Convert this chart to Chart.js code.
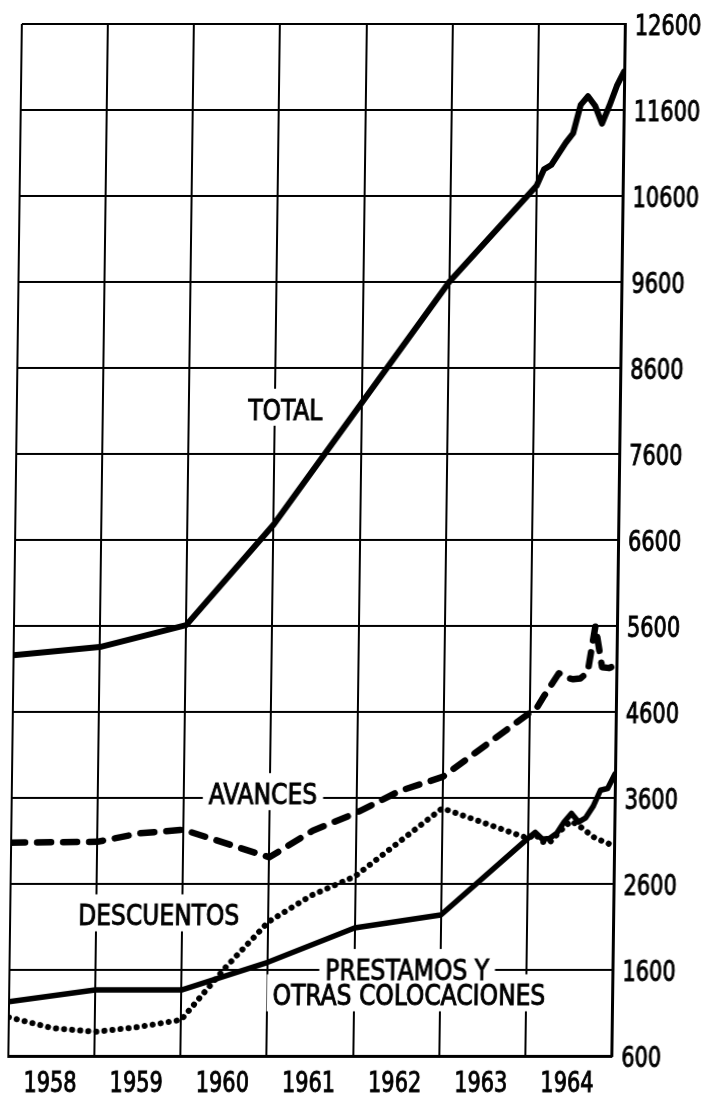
<!DOCTYPE html>
<html>
<head>
<meta charset="utf-8">
<title>Total, avances, descuentos y prestamos 1958-1964</title>
<script src="https://cdn.jsdelivr.net/npm/chart.js@4.4.1/dist/chart.umd.min.js"></script>
<style>
  html, body { margin: 0; padding: 0; background: #fff; }
  /* the scan is slightly sheared, so the whole chart leans a little */
  #wrap { width: 703px; height: 1095px; transform: skewX(-0.75deg); transform-origin: 50% 50%; }
</style>
</head>
<body>
<div id="wrap"><canvas id="chart" width="703" height="1095"></canvas></div>
<script>
// x values are months counted from January 1958
const yearLabels = ["1958", "1959", "1960", "1961", "1962", "1963", "1964"];
const yTicks = [600, 1600, 2600, 3600, 4600, 5600, 6600, 7600, 8600, 9600, 10600, 11600, 12600];

// TOTAL
const totalMonths = [0, 12, 24, 36, 48, 60, 72, 73, 74, 75, 76, 77, 78, 79, 80, 81, 82, 83, 84];
const totalValues = [5260, 5355, 5610, 6780, 8190, 9600, 10720,
  10910, 10960, 11090, 11220, 11330, 11660, 11760, 11650, 11440, 11650, 11880, 12050];

// AVANCES
const avancesMonths = [0, 12, 18, 24, 36, 42, 48, 54, 60, 72, 73, 74, 75, 76, 77, 78, 79, 80, 81, 82, 83, 84];
const avancesValues = [3080, 3090, 3190, 3230, 2910, 3220, 3425, 3680, 3845, 4590,
  4650, 4790, 4920, 5050, 5000, 4980, 4990, 5060, 5600, 5120, 5110, 5150];

// DESCUENTOS
const descuentosMonths = [0, 6, 12, 18, 24, 30, 36, 42, 48, 60, 72, 73, 74, 75, 76, 77, 78, 79, 80, 81, 82, 83, 84];
const descuentosValues = [1050, 925, 880, 935, 1020, 1620, 2160, 2470, 2690, 3480, 3130,
  3180, 3090, 3080, 3170, 3260, 3330, 3280, 3220, 3150, 3110, 3080, 3030];

// PRESTAMOS Y OTRAS COLOCACIONES
const prestamosMonths = [0, 12, 24, 36, 48, 60, 72, 73, 74, 75, 76, 77, 78, 79, 80, 81, 82, 83, 84];
const prestamosValues = [1230, 1367, 1367, 1690, 2088, 2240, 3130,
  3200, 3120, 3130, 3190, 3320, 3420, 3320, 3370, 3500, 3690, 3710, 3880];

// captions written inside the plot (month, value)
const captions = [
  { text: "TOTAL", month: 37.4, value: 8120 },
  { text: "AVANCES", month: 35.0, value: 3650 },
  { text: "DESCUENTOS", month: 20.7, value: 2240 },
  { text: "PRESTAMOS Y", month: 55.4, value: 1605 },
  { text: "OTRAS COLOCACIONES", month: 55.7, value: 1310 },
];

const fontFamily = "'Liberation Sans Narrow', 'DejaVu Sans Condensed', 'Liberation Sans', sans-serif";
const textFont = "28px " + fontFamily;

function toPoints(months, values) {
  return months.map((m, i) => ({ x: m, y: values[i] }));
}

function lineStyle(extra) {
  return Object.assign({
    borderColor: "#000",
    backgroundColor: "#000",
    borderWidth: 5.5,
    pointRadius: 0,
    tension: 0,
    fill: false,
    borderCapStyle: "round",
    borderJoinStyle: "round",
  }, extra);
}

// the lettering of the original is narrow and a bit heavy:
// squeeze it horizontally and give it a thin outline
function drawNarrow(ctx, text, x, y, squeeze, align) {
  ctx.save();
  ctx.translate(x, y);
  ctx.scale(squeeze, 1);
  ctx.textAlign = align;
  ctx.textBaseline = "alphabetic";
  ctx.lineWidth = 0.9;
  ctx.strokeStyle = "#000";
  ctx.fillText(text, 0, 0);
  ctx.strokeText(text, 0, 0);
  ctx.restore();
}

// white boxes + text for the captions, drawn over the grid but under the lines
const captionPlugin = {
  id: "captions",
  beforeDatasetsDraw(chart) {
    const { ctx, scales } = chart;
    const squeeze = 0.93;
    ctx.save();
    ctx.font = textFont;
    const cap = ctx.measureText("H").actualBoundingBoxAscent;
    const items = captions.map((c) => ({
      text: c.text,
      x: scales.x.getPixelForValue(c.month),
      y: scales.y.getPixelForValue(c.value),
      w: ctx.measureText(c.text).width * squeeze,
    }));
    ctx.fillStyle = "#fff";
    items.forEach((it) => {
      ctx.fillRect(it.x - it.w / 2 - 6, it.y - cap / 2 - 10, it.w + 12, cap + 16);
    });
    ctx.fillStyle = "#000";
    items.forEach((it) => {
      drawNarrow(ctx, it.text, it.x, it.y + cap / 2, squeeze, "center");
    });
    ctx.restore();
  },
};

// tick labels: years centred in each yearly band, values to the right of the frame
const tickLabelPlugin = {
  id: "tickLabels",
  afterDraw(chart) {
    const { ctx, scales: { x, y } } = chart;
    const squeeze = 0.83;
    ctx.save();
    ctx.font = textFont;
    ctx.fillStyle = "#000";
    const cap = ctx.measureText("0").actualBoundingBoxAscent;
    yTicks.forEach((v) => {
      drawNarrow(ctx, String(v), y.left + 10, y.getPixelForValue(v) + cap / 2, squeeze, "left");
    });
    yearLabels.forEach((label, i) => {
      drawNarrow(ctx, label, x.getPixelForValue(i * 12 + 6) - 1, x.top + 36, squeeze, "center");
    });
    ctx.restore();
  },
};

new Chart(document.getElementById("chart"), {
  type: "line",
  data: {
    datasets: [
      lineStyle({ label: "TOTAL", data: toPoints(totalMonths, totalValues), borderWidth: 6 }),
      lineStyle({ label: "AVANCES", data: toPoints(avancesMonths, avancesValues), borderWidth: 6.5, borderDash: [14, 12] }),
      lineStyle({ label: "DESCUENTOS", data: toPoints(descuentosMonths, descuentosValues), borderWidth: 6, borderDash: [0.1, 8] }),
      lineStyle({ label: "PRESTAMOS Y OTRAS COLOCACIONES", data: toPoints(prestamosMonths, prestamosValues) }),
    ],
  },
  options: {
    responsive: false,
    animation: false,
    layout: { padding: { left: 15, top: 24, right: 0, bottom: 0 } },
    plugins: {
      legend: { display: false },
      tooltip: { enabled: false },
    },
    scales: {
      x: {
        type: "linear",
        min: 0,
        max: 84,
        afterBuildTicks: (scale) => {
          const ticks = [];
          for (let m = 0; m <= 84; m += 12) ticks.push({ value: m });
          scale.ticks = ticks;
        },
        afterFit: (scale) => { scale.height = 39; },
        grid: { color: "#000", lineWidth: 2, drawTicks: false },
        border: { display: true, color: "#000", width: 3 },
        ticks: { display: false },
      },
      y: {
        position: "right",
        min: 600,
        max: 12600,
        afterBuildTicks: (scale) => {
          scale.ticks = yTicks.map((v) => ({ value: v }));
        },
        afterFit: (scale) => { scale.width = 85; },
        grid: { color: "#000", lineWidth: 2, drawTicks: false },
        border: { display: true, color: "#000", width: 3 },
        ticks: { display: false },
      },
    },
  },
  plugins: [captionPlugin, tickLabelPlugin],
});
</script>
</body>
</html>
